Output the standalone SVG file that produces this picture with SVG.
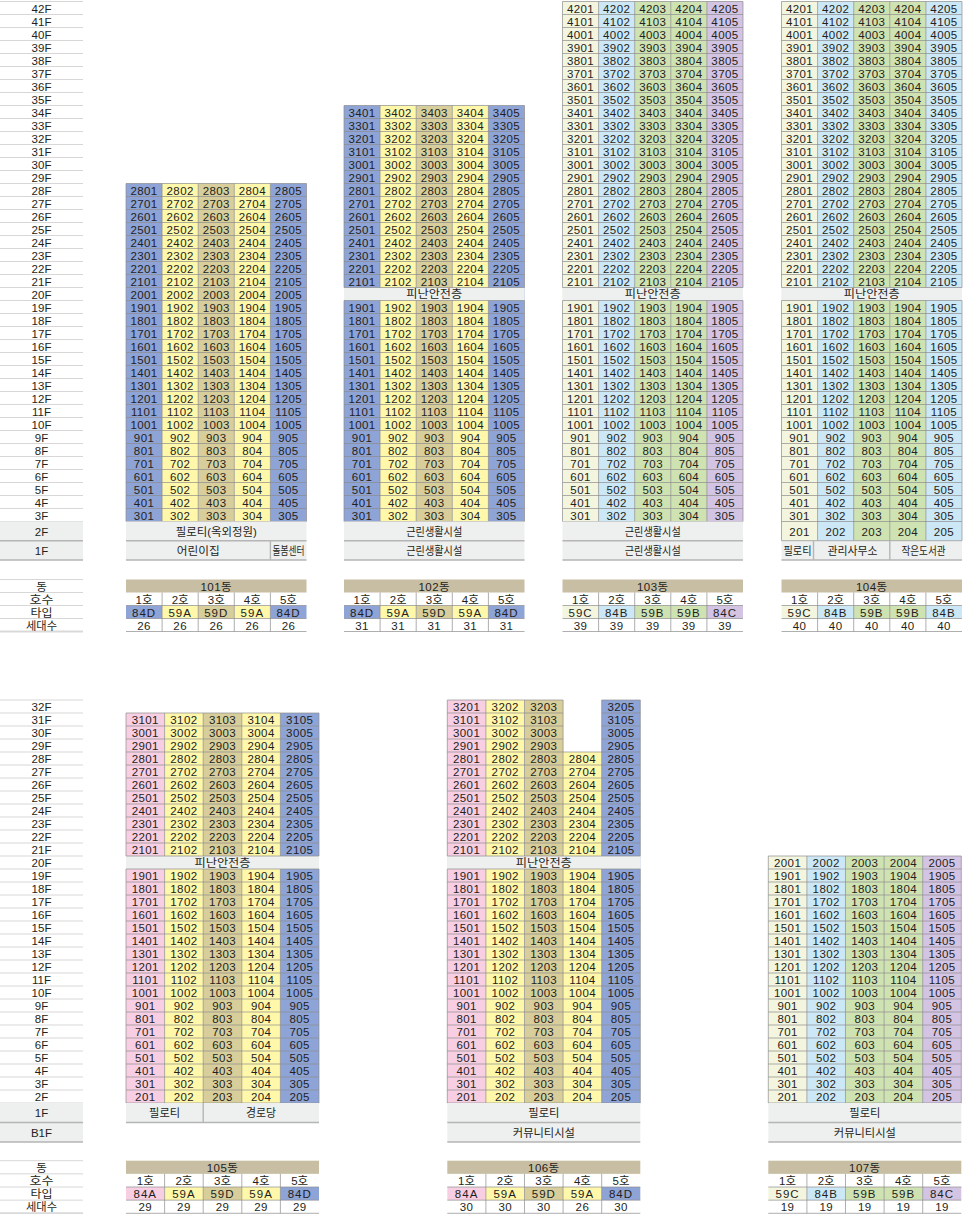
<svg xmlns="http://www.w3.org/2000/svg" width="963" height="1214" viewBox="0 0 963 1214">
<style>
text{font-family:"Liberation Sans","Noto Sans CJK KR",sans-serif;font-size:11.5px;letter-spacing:.4px;fill:#231f20;text-anchor:middle}
.f text,text.f{letter-spacing:0}
.k text,text.k{letter-spacing:0}
.t text{letter-spacing:1px}
.g{fill:none;stroke:#8c8c8c;stroke-width:.7}
.lg{fill:none;stroke:#cdcdcd;stroke-width:.8}
.ln{fill:none;stroke:#b5b5b5;stroke-width:1.4}
.bl{fill:#8ea3d6}.ye{fill:#fff7aa}.kh{fill:#d8ce9b}.cr{fill:#f3f5de}.lb{fill:#cce8f7}.gr{fill:#cfe2b2}.la{fill:#d4c4e4}.pk{fill:#f8cee2}.gy{fill:#eeefef}.tn{fill:#c8bea4}
</style>
<defs>
<path id="hT1" class="g" d="M0 1h180.5M0 14h180.5M0 27h180.5M0 40h180.5M0 53h180.5M0 66h180.5M0 79h180.5M0 92h180.5"/>
<path id="hT2" class="g" d="M0 105h180.5M0 118h180.5M0 131h180.5M0 144h180.5M0 157h180.5M0 170h180.5"/>
<path id="hT3" class="g" d="M0 183h180.5M0 196h180.5M0 209h180.5M0 222h180.5M0 235h180.5M0 248h180.5M0 261h180.5M0 274h180.5M0 287h180.5M0 300h180.5M0 313h180.5M0 326h180.5M0 339h180.5M0 352h180.5M0 365h180.5M0 378h180.5M0 391h180.5M0 404h180.5M0 417h180.5M0 430h180.5M0 443h180.5M0 456h180.5M0 469h180.5M0 482h180.5M0 495h180.5M0 508h180.5M0 521h180.5"/>
<path id="vTL" class="g" d="M0 300v221M36.1 300v221M72.2 300v221M108.3 300v221M144.4 300v221M180.5 300v221"/>
<path id="legT" class="g" d="M0 605h180.5M0 618h180.5M0 631h180.5M36.1 592v39M72.2 592v39M108.3 592v39M144.4 592v39"/>
<path id="hB2" class="g" d="M0 53h193M0 66h193M0 79h193M0 92h193M0 105h193M0 118h193M0 131h193M0 144h193"/>
<path id="hB3" class="g" d="M0 157h193M0 170h193M0 183h193M0 196h193M0 209h193M0 222h193M0 235h193M0 248h193M0 261h193M0 274h193M0 287h193M0 300h193M0 313h193M0 326h193M0 339h193M0 352h193M0 365h193M0 378h193M0 391h193M0 404h193"/>
<path id="vBL" class="g" d="M0 170v234M38.6 170v234M77.2 170v234M115.8 170v234M154.4 170v234M193 170v234"/>
<path id="legB" class="g" d="M0 488h193M0 501.15h193M0 514.3h193M38.6 474.85v39.45M77.2 474.85v39.45M115.8 474.85v39.45M154.4 474.85v39.45"/>
</defs>
<rect width="963" height="1214" fill="#fff"/>

<g id="upper" transform="translate(0,0.5)">
<g id="floor-axis-upper">
<path class="lg" d="M0 1h83M0 14h83M0 27h83M0 40h83M0 53h83M0 66h83M0 79h83M0 92h83M0 105h83M0 118h83M0 131h83M0 144h83M0 157h83M0 170h83M0 183h83M0 196h83M0 209h83M0 222h83M0 235h83M0 248h83M0 261h83M0 274h83M0 287h83M0 300h83M0 313h83M0 326h83M0 339h83M0 352h83M0 365h83M0 378h83M0 391h83M0 404h83M0 417h83M0 430h83M0 443h83M0 456h83M0 469h83M0 482h83M0 495h83M0 508h83M0 521h83"/>
<rect class="gy" y="521" width="83" height="38.5"/>
<path class="ln" d="M0 540.2h83M0 559.5h83"/>
<g class="f" transform="translate(41.5,0)">
<text y="12">42F</text><text y="25">41F</text><text y="38">40F</text><text y="51">39F</text><text y="64">38F</text><text y="77">37F</text><text y="90">36F</text><text y="103">35F</text><text y="116">34F</text><text y="129">33F</text><text y="142">32F</text><text y="155">31F</text><text y="168">30F</text><text y="181">29F</text><text y="194">28F</text><text y="207">27F</text><text y="220">26F</text><text y="233">25F</text><text y="246">24F</text><text y="259">23F</text><text y="272">22F</text><text y="285">21F</text><text y="298">20F</text><text y="311">19F</text><text y="324">18F</text><text y="337">17F</text><text y="350">16F</text><text y="363">15F</text><text y="376">14F</text><text y="389">13F</text><text y="402">12F</text><text y="415">11F</text><text y="428">10F</text><text y="441">9F</text><text y="454">8F</text><text y="467">7F</text><text y="480">6F</text><text y="493">5F</text><text y="506">4F</text><text y="519">3F</text><text y="535">2F</text><text y="554">1F</text>
</g>
<path class="lg" d="M0 579h83M0 592h83M0 605h83M0 618h83"/>
<path d="M0 631h83" fill="none" stroke="#d9d9d9" stroke-width="2"/>
<g class="k" transform="translate(41.5,0)"><text y="590">동</text><text y="603" textLength="24" lengthAdjust="spacingAndGlyphs">호수</text><text y="616" textLength="22" lengthAdjust="spacingAndGlyphs">타입</text><text y="629" textLength="31" lengthAdjust="spacingAndGlyphs">세대수</text></g>
</g>

<g id="b101" transform="translate(126,0)">
<rect class="bl" y="183" width="36.1" height="338"/>
<rect class="ye" x="36.1" y="183" width="36.1" height="338"/>
<rect class="kh" x="72.2" y="183" width="36.1" height="338"/>
<rect class="ye" x="108.3" y="183" width="36.1" height="338"/>
<rect class="bl" x="144.4" y="183" width="36.1" height="338"/>
<use href="#hT3"/>
<path class="g" d="M0 183v338M36.1 183v338M72.2 183v338M108.3 183v338M144.4 183v338M180.5 183v338"/>
<g transform="translate(18.05,0)"><text y="194">2801</text><text y="207">2701</text><text y="220">2601</text><text y="233">2501</text><text y="246">2401</text><text y="259">2301</text><text y="272">2201</text><text y="285">2101</text><text y="298">2001</text><text y="311">1901</text><text y="324">1801</text><text y="337">1701</text><text y="350">1601</text><text y="363">1501</text><text y="376">1401</text><text y="389">1301</text><text y="402">1201</text><text y="415">1101</text><text y="428">1001</text><text y="441">901</text><text y="454">801</text><text y="467">701</text><text y="480">601</text><text y="493">501</text><text y="506">401</text><text y="519">301</text></g>
<g transform="translate(54.15,0)"><text y="194">2802</text><text y="207">2702</text><text y="220">2602</text><text y="233">2502</text><text y="246">2402</text><text y="259">2302</text><text y="272">2202</text><text y="285">2102</text><text y="298">2002</text><text y="311">1902</text><text y="324">1802</text><text y="337">1702</text><text y="350">1602</text><text y="363">1502</text><text y="376">1402</text><text y="389">1302</text><text y="402">1202</text><text y="415">1102</text><text y="428">1002</text><text y="441">902</text><text y="454">802</text><text y="467">702</text><text y="480">602</text><text y="493">502</text><text y="506">402</text><text y="519">302</text></g>
<g transform="translate(90.25,0)"><text y="194">2803</text><text y="207">2703</text><text y="220">2603</text><text y="233">2503</text><text y="246">2403</text><text y="259">2303</text><text y="272">2203</text><text y="285">2103</text><text y="298">2003</text><text y="311">1903</text><text y="324">1803</text><text y="337">1703</text><text y="350">1603</text><text y="363">1503</text><text y="376">1403</text><text y="389">1303</text><text y="402">1203</text><text y="415">1103</text><text y="428">1003</text><text y="441">903</text><text y="454">803</text><text y="467">703</text><text y="480">603</text><text y="493">503</text><text y="506">403</text><text y="519">303</text></g>
<g transform="translate(126.35,0)"><text y="194">2804</text><text y="207">2704</text><text y="220">2604</text><text y="233">2504</text><text y="246">2404</text><text y="259">2304</text><text y="272">2204</text><text y="285">2104</text><text y="298">2004</text><text y="311">1904</text><text y="324">1804</text><text y="337">1704</text><text y="350">1604</text><text y="363">1504</text><text y="376">1404</text><text y="389">1304</text><text y="402">1204</text><text y="415">1104</text><text y="428">1004</text><text y="441">904</text><text y="454">804</text><text y="467">704</text><text y="480">604</text><text y="493">504</text><text y="506">404</text><text y="519">304</text></g>
<g transform="translate(162.45,0)"><text y="194">2805</text><text y="207">2705</text><text y="220">2605</text><text y="233">2505</text><text y="246">2405</text><text y="259">2305</text><text y="272">2205</text><text y="285">2105</text><text y="298">2005</text><text y="311">1905</text><text y="324">1805</text><text y="337">1705</text><text y="350">1605</text><text y="363">1505</text><text y="376">1405</text><text y="389">1305</text><text y="402">1205</text><text y="415">1105</text><text y="428">1005</text><text y="441">905</text><text y="454">805</text><text y="467">705</text><text y="480">605</text><text y="493">505</text><text y="506">405</text><text y="519">305</text></g>
<rect class="gy" y="521" width="180.5" height="38.5"/>
<path class="ln" d="M0 540.2h180.5M0 559.5h180.5M144.4 540.2v19.3"/>
<text class="k" x="90.25" y="535" textLength="81" lengthAdjust="spacingAndGlyphs">필로티(옥외정원)</text>
<text class="k" x="72.2" y="554" textLength="43" lengthAdjust="spacingAndGlyphs">어린이집</text>
<text class="k" x="162.45" y="554" textLength="32" lengthAdjust="spacingAndGlyphs">돌봄센터</text>
<rect class="tn" y="579" width="180.5" height="13"/>
<text x="90.25" y="590">101동</text>
<rect class="bl" y="605" width="36.1" height="13"/><rect class="ye" x="36.1" y="605" width="36.1" height="13"/><rect class="kh" x="72.2" y="605" width="36.1" height="13"/><rect class="ye" x="108.3" y="605" width="36.1" height="13"/><rect class="bl" x="144.4" y="605" width="36.1" height="13"/>
<use href="#legT"/>
<g class="f"><text x="18.05" y="603">1호</text><text x="54.15" y="603">2호</text><text x="90.25" y="603">3호</text><text x="126.35" y="603">4호</text><text x="162.45" y="603">5호</text></g>
<g class="t"><text x="18.05" y="616">84D</text><text x="54.15" y="616">59A</text><text x="90.25" y="616">59D</text><text x="126.35" y="616">59A</text><text x="162.45" y="616">84D</text></g>
<text x="18.05" y="629">26</text><text x="54.15" y="629">26</text><text x="90.25" y="629">26</text><text x="126.35" y="629">26</text><text x="162.45" y="629">26</text>
</g>

<g id="b102" transform="translate(344,0)">
<rect class="bl" y="105" width="36.1" height="416"/>
<rect class="ye" x="36.1" y="105" width="36.1" height="416"/>
<rect class="kh" x="72.2" y="105" width="36.1" height="416"/>
<rect class="ye" x="108.3" y="105" width="36.1" height="416"/>
<rect class="bl" x="144.4" y="105" width="36.1" height="416"/>
<rect class="gy" y="287" width="180.5" height="13"/>
<use href="#hT2"/><use href="#hT3"/>
<path class="g" d="M0 105v182M36.1 105v182M72.2 105v182M108.3 105v182M144.4 105v182M180.5 105v182"/>
<use href="#vTL"/>
<text class="k" x="90.25" y="297.5" textLength="56" lengthAdjust="spacingAndGlyphs">피난안전층</text>
<g transform="translate(18.05,0)"><text y="116">3401</text><text y="129">3301</text><text y="142">3201</text><text y="155">3101</text><text y="168">3001</text><text y="181">2901</text><text y="194">2801</text><text y="207">2701</text><text y="220">2601</text><text y="233">2501</text><text y="246">2401</text><text y="259">2301</text><text y="272">2201</text><text y="285">2101</text><text y="311">1901</text><text y="324">1801</text><text y="337">1701</text><text y="350">1601</text><text y="363">1501</text><text y="376">1401</text><text y="389">1301</text><text y="402">1201</text><text y="415">1101</text><text y="428">1001</text><text y="441">901</text><text y="454">801</text><text y="467">701</text><text y="480">601</text><text y="493">501</text><text y="506">401</text><text y="519">301</text></g>
<g transform="translate(54.15,0)"><text y="116">3402</text><text y="129">3302</text><text y="142">3202</text><text y="155">3102</text><text y="168">3002</text><text y="181">2902</text><text y="194">2802</text><text y="207">2702</text><text y="220">2602</text><text y="233">2502</text><text y="246">2402</text><text y="259">2302</text><text y="272">2202</text><text y="285">2102</text><text y="311">1902</text><text y="324">1802</text><text y="337">1702</text><text y="350">1602</text><text y="363">1502</text><text y="376">1402</text><text y="389">1302</text><text y="402">1202</text><text y="415">1102</text><text y="428">1002</text><text y="441">902</text><text y="454">802</text><text y="467">702</text><text y="480">602</text><text y="493">502</text><text y="506">402</text><text y="519">302</text></g>
<g transform="translate(90.25,0)"><text y="116">3403</text><text y="129">3303</text><text y="142">3203</text><text y="155">3103</text><text y="168">3003</text><text y="181">2903</text><text y="194">2803</text><text y="207">2703</text><text y="220">2603</text><text y="233">2503</text><text y="246">2403</text><text y="259">2303</text><text y="272">2203</text><text y="285">2103</text><text y="311">1903</text><text y="324">1803</text><text y="337">1703</text><text y="350">1603</text><text y="363">1503</text><text y="376">1403</text><text y="389">1303</text><text y="402">1203</text><text y="415">1103</text><text y="428">1003</text><text y="441">903</text><text y="454">803</text><text y="467">703</text><text y="480">603</text><text y="493">503</text><text y="506">403</text><text y="519">303</text></g>
<g transform="translate(126.35,0)"><text y="116">3404</text><text y="129">3304</text><text y="142">3204</text><text y="155">3104</text><text y="168">3004</text><text y="181">2904</text><text y="194">2804</text><text y="207">2704</text><text y="220">2604</text><text y="233">2504</text><text y="246">2404</text><text y="259">2304</text><text y="272">2204</text><text y="285">2104</text><text y="311">1904</text><text y="324">1804</text><text y="337">1704</text><text y="350">1604</text><text y="363">1504</text><text y="376">1404</text><text y="389">1304</text><text y="402">1204</text><text y="415">1104</text><text y="428">1004</text><text y="441">904</text><text y="454">804</text><text y="467">704</text><text y="480">604</text><text y="493">504</text><text y="506">404</text><text y="519">304</text></g>
<g transform="translate(162.45,0)"><text y="116">3405</text><text y="129">3305</text><text y="142">3205</text><text y="155">3105</text><text y="168">3005</text><text y="181">2905</text><text y="194">2805</text><text y="207">2705</text><text y="220">2605</text><text y="233">2505</text><text y="246">2405</text><text y="259">2305</text><text y="272">2205</text><text y="285">2105</text><text y="311">1905</text><text y="324">1805</text><text y="337">1705</text><text y="350">1605</text><text y="363">1505</text><text y="376">1405</text><text y="389">1305</text><text y="402">1205</text><text y="415">1105</text><text y="428">1005</text><text y="441">905</text><text y="454">805</text><text y="467">705</text><text y="480">605</text><text y="493">505</text><text y="506">405</text><text y="519">305</text></g>
<rect class="gy" y="521" width="180.5" height="38.5"/>
<path class="ln" d="M0 540.2h180.5M0 559.5h180.5"/>
<text class="k" x="90.25" y="535" textLength="56" lengthAdjust="spacingAndGlyphs">근린생활시설</text>
<text class="k" x="90.25" y="554" textLength="56" lengthAdjust="spacingAndGlyphs">근린생활시설</text>
<rect class="tn" y="579" width="180.5" height="13"/>
<text x="90.25" y="590">102동</text>
<rect class="bl" y="605" width="36.1" height="13"/><rect class="ye" x="36.1" y="605" width="36.1" height="13"/><rect class="kh" x="72.2" y="605" width="36.1" height="13"/><rect class="ye" x="108.3" y="605" width="36.1" height="13"/><rect class="bl" x="144.4" y="605" width="36.1" height="13"/>
<use href="#legT"/>
<g class="f"><text x="18.05" y="603">1호</text><text x="54.15" y="603">2호</text><text x="90.25" y="603">3호</text><text x="126.35" y="603">4호</text><text x="162.45" y="603">5호</text></g>
<g class="t"><text x="18.05" y="616">84D</text><text x="54.15" y="616">59A</text><text x="90.25" y="616">59D</text><text x="126.35" y="616">59A</text><text x="162.45" y="616">84D</text></g>
<text x="18.05" y="629">31</text><text x="54.15" y="629">31</text><text x="90.25" y="629">31</text><text x="126.35" y="629">31</text><text x="162.45" y="629">31</text>
</g>

<g id="b103" transform="translate(562.5,0)">
<rect class="cr" y="1" width="36.1" height="520"/>
<rect class="lb" x="36.1" y="1" width="36.1" height="520"/>
<rect class="gr" x="72.2" y="1" width="36.1" height="520"/>
<rect class="gr" x="108.3" y="1" width="36.1" height="520"/>
<rect class="la" x="144.4" y="1" width="36.1" height="520"/>
<rect class="gy" y="287" width="180.5" height="13"/>
<use href="#hT1"/><use href="#hT2"/><use href="#hT3"/>
<path class="g" d="M0 1v286M36.1 1v286M72.2 1v286M108.3 1v286M144.4 1v286M180.5 1v286"/>
<use href="#vTL"/>
<text class="k" x="90.25" y="297.5" textLength="56" lengthAdjust="spacingAndGlyphs">피난안전층</text>
<g transform="translate(18.05,0)"><text y="12">4201</text><text y="25">4101</text><text y="38">4001</text><text y="51">3901</text><text y="64">3801</text><text y="77">3701</text><text y="90">3601</text><text y="103">3501</text><text y="116">3401</text><text y="129">3301</text><text y="142">3201</text><text y="155">3101</text><text y="168">3001</text><text y="181">2901</text><text y="194">2801</text><text y="207">2701</text><text y="220">2601</text><text y="233">2501</text><text y="246">2401</text><text y="259">2301</text><text y="272">2201</text><text y="285">2101</text><text y="311">1901</text><text y="324">1801</text><text y="337">1701</text><text y="350">1601</text><text y="363">1501</text><text y="376">1401</text><text y="389">1301</text><text y="402">1201</text><text y="415">1101</text><text y="428">1001</text><text y="441">901</text><text y="454">801</text><text y="467">701</text><text y="480">601</text><text y="493">501</text><text y="506">401</text><text y="519">301</text></g>
<g transform="translate(54.15,0)"><text y="12">4202</text><text y="25">4102</text><text y="38">4002</text><text y="51">3902</text><text y="64">3802</text><text y="77">3702</text><text y="90">3602</text><text y="103">3502</text><text y="116">3402</text><text y="129">3302</text><text y="142">3202</text><text y="155">3102</text><text y="168">3002</text><text y="181">2902</text><text y="194">2802</text><text y="207">2702</text><text y="220">2602</text><text y="233">2502</text><text y="246">2402</text><text y="259">2302</text><text y="272">2202</text><text y="285">2102</text><text y="311">1902</text><text y="324">1802</text><text y="337">1702</text><text y="350">1602</text><text y="363">1502</text><text y="376">1402</text><text y="389">1302</text><text y="402">1202</text><text y="415">1102</text><text y="428">1002</text><text y="441">902</text><text y="454">802</text><text y="467">702</text><text y="480">602</text><text y="493">502</text><text y="506">402</text><text y="519">302</text></g>
<g transform="translate(90.25,0)"><text y="12">4203</text><text y="25">4103</text><text y="38">4003</text><text y="51">3903</text><text y="64">3803</text><text y="77">3703</text><text y="90">3603</text><text y="103">3503</text><text y="116">3403</text><text y="129">3303</text><text y="142">3203</text><text y="155">3103</text><text y="168">3003</text><text y="181">2903</text><text y="194">2803</text><text y="207">2703</text><text y="220">2603</text><text y="233">2503</text><text y="246">2403</text><text y="259">2303</text><text y="272">2203</text><text y="285">2103</text><text y="311">1903</text><text y="324">1803</text><text y="337">1703</text><text y="350">1603</text><text y="363">1503</text><text y="376">1403</text><text y="389">1303</text><text y="402">1203</text><text y="415">1103</text><text y="428">1003</text><text y="441">903</text><text y="454">803</text><text y="467">703</text><text y="480">603</text><text y="493">503</text><text y="506">403</text><text y="519">303</text></g>
<g transform="translate(126.35,0)"><text y="12">4204</text><text y="25">4104</text><text y="38">4004</text><text y="51">3904</text><text y="64">3804</text><text y="77">3704</text><text y="90">3604</text><text y="103">3504</text><text y="116">3404</text><text y="129">3304</text><text y="142">3204</text><text y="155">3104</text><text y="168">3004</text><text y="181">2904</text><text y="194">2804</text><text y="207">2704</text><text y="220">2604</text><text y="233">2504</text><text y="246">2404</text><text y="259">2304</text><text y="272">2204</text><text y="285">2104</text><text y="311">1904</text><text y="324">1804</text><text y="337">1704</text><text y="350">1604</text><text y="363">1504</text><text y="376">1404</text><text y="389">1304</text><text y="402">1204</text><text y="415">1104</text><text y="428">1004</text><text y="441">904</text><text y="454">804</text><text y="467">704</text><text y="480">604</text><text y="493">504</text><text y="506">404</text><text y="519">304</text></g>
<g transform="translate(162.45,0)"><text y="12">4205</text><text y="25">4105</text><text y="38">4005</text><text y="51">3905</text><text y="64">3805</text><text y="77">3705</text><text y="90">3605</text><text y="103">3505</text><text y="116">3405</text><text y="129">3305</text><text y="142">3205</text><text y="155">3105</text><text y="168">3005</text><text y="181">2905</text><text y="194">2805</text><text y="207">2705</text><text y="220">2605</text><text y="233">2505</text><text y="246">2405</text><text y="259">2305</text><text y="272">2205</text><text y="285">2105</text><text y="311">1905</text><text y="324">1805</text><text y="337">1705</text><text y="350">1605</text><text y="363">1505</text><text y="376">1405</text><text y="389">1305</text><text y="402">1205</text><text y="415">1105</text><text y="428">1005</text><text y="441">905</text><text y="454">805</text><text y="467">705</text><text y="480">605</text><text y="493">505</text><text y="506">405</text><text y="519">305</text></g>
<rect class="gy" y="521" width="180.5" height="38.5"/>
<path class="ln" d="M0 540.2h180.5M0 559.5h180.5"/>
<text class="k" x="90.25" y="535" textLength="56" lengthAdjust="spacingAndGlyphs">근린생활시설</text>
<text class="k" x="90.25" y="554" textLength="56" lengthAdjust="spacingAndGlyphs">근린생활시설</text>
<rect class="tn" y="579" width="180.5" height="13"/>
<text x="90.25" y="590">103동</text>
<rect class="cr" y="605" width="36.1" height="13"/><rect class="lb" x="36.1" y="605" width="36.1" height="13"/><rect class="gr" x="72.2" y="605" width="36.1" height="13"/><rect class="gr" x="108.3" y="605" width="36.1" height="13"/><rect class="la" x="144.4" y="605" width="36.1" height="13"/>
<use href="#legT"/>
<g class="f"><text x="18.05" y="603">1호</text><text x="54.15" y="603">2호</text><text x="90.25" y="603">3호</text><text x="126.35" y="603">4호</text><text x="162.45" y="603">5호</text></g>
<g class="t"><text x="18.05" y="616">59C</text><text x="54.15" y="616">84B</text><text x="90.25" y="616">59B</text><text x="126.35" y="616">59B</text><text x="162.45" y="616">84C</text></g>
<text x="18.05" y="629">39</text><text x="54.15" y="629">39</text><text x="90.25" y="629">39</text><text x="126.35" y="629">39</text><text x="162.45" y="629">39</text>
</g>

<g id="b104" transform="translate(781.5,0)">
<rect class="cr" y="1" width="36.1" height="539.2"/>
<rect class="lb" x="36.1" y="1" width="36.1" height="539.2"/>
<rect class="gr" x="72.2" y="1" width="36.1" height="539.2"/>
<rect class="gr" x="108.3" y="1" width="36.1" height="539.2"/>
<rect class="lb" x="144.4" y="1" width="36.1" height="539.2"/>
<rect class="gy" y="287" width="180.5" height="13"/>
<use href="#hT1"/><use href="#hT2"/><use href="#hT3"/>
<path class="g" d="M0 1v286M36.1 1v286M72.2 1v286M108.3 1v286M144.4 1v286M180.5 1v286M0 300v240.2M36.1 300v240.2M72.2 300v240.2M108.3 300v240.2M144.4 300v240.2M180.5 300v240.2"/>
<text class="k" x="90.25" y="297.5" textLength="56" lengthAdjust="spacingAndGlyphs">피난안전층</text>
<g transform="translate(18.05,0)"><text y="12">4201</text><text y="25">4101</text><text y="38">4001</text><text y="51">3901</text><text y="64">3801</text><text y="77">3701</text><text y="90">3601</text><text y="103">3501</text><text y="116">3401</text><text y="129">3301</text><text y="142">3201</text><text y="155">3101</text><text y="168">3001</text><text y="181">2901</text><text y="194">2801</text><text y="207">2701</text><text y="220">2601</text><text y="233">2501</text><text y="246">2401</text><text y="259">2301</text><text y="272">2201</text><text y="285">2101</text><text y="311">1901</text><text y="324">1801</text><text y="337">1701</text><text y="350">1601</text><text y="363">1501</text><text y="376">1401</text><text y="389">1301</text><text y="402">1201</text><text y="415">1101</text><text y="428">1001</text><text y="441">901</text><text y="454">801</text><text y="467">701</text><text y="480">601</text><text y="493">501</text><text y="506">401</text><text y="519">301</text><text y="535">201</text></g>
<g transform="translate(54.15,0)"><text y="12">4202</text><text y="25">4102</text><text y="38">4002</text><text y="51">3902</text><text y="64">3802</text><text y="77">3702</text><text y="90">3602</text><text y="103">3502</text><text y="116">3402</text><text y="129">3302</text><text y="142">3202</text><text y="155">3102</text><text y="168">3002</text><text y="181">2902</text><text y="194">2802</text><text y="207">2702</text><text y="220">2602</text><text y="233">2502</text><text y="246">2402</text><text y="259">2302</text><text y="272">2202</text><text y="285">2102</text><text y="311">1902</text><text y="324">1802</text><text y="337">1702</text><text y="350">1602</text><text y="363">1502</text><text y="376">1402</text><text y="389">1302</text><text y="402">1202</text><text y="415">1102</text><text y="428">1002</text><text y="441">902</text><text y="454">802</text><text y="467">702</text><text y="480">602</text><text y="493">502</text><text y="506">402</text><text y="519">302</text><text y="535">202</text></g>
<g transform="translate(90.25,0)"><text y="12">4203</text><text y="25">4103</text><text y="38">4003</text><text y="51">3903</text><text y="64">3803</text><text y="77">3703</text><text y="90">3603</text><text y="103">3503</text><text y="116">3403</text><text y="129">3303</text><text y="142">3203</text><text y="155">3103</text><text y="168">3003</text><text y="181">2903</text><text y="194">2803</text><text y="207">2703</text><text y="220">2603</text><text y="233">2503</text><text y="246">2403</text><text y="259">2303</text><text y="272">2203</text><text y="285">2103</text><text y="311">1903</text><text y="324">1803</text><text y="337">1703</text><text y="350">1603</text><text y="363">1503</text><text y="376">1403</text><text y="389">1303</text><text y="402">1203</text><text y="415">1103</text><text y="428">1003</text><text y="441">903</text><text y="454">803</text><text y="467">703</text><text y="480">603</text><text y="493">503</text><text y="506">403</text><text y="519">303</text><text y="535">203</text></g>
<g transform="translate(126.35,0)"><text y="12">4204</text><text y="25">4104</text><text y="38">4004</text><text y="51">3904</text><text y="64">3804</text><text y="77">3704</text><text y="90">3604</text><text y="103">3504</text><text y="116">3404</text><text y="129">3304</text><text y="142">3204</text><text y="155">3104</text><text y="168">3004</text><text y="181">2904</text><text y="194">2804</text><text y="207">2704</text><text y="220">2604</text><text y="233">2504</text><text y="246">2404</text><text y="259">2304</text><text y="272">2204</text><text y="285">2104</text><text y="311">1904</text><text y="324">1804</text><text y="337">1704</text><text y="350">1604</text><text y="363">1504</text><text y="376">1404</text><text y="389">1304</text><text y="402">1204</text><text y="415">1104</text><text y="428">1004</text><text y="441">904</text><text y="454">804</text><text y="467">704</text><text y="480">604</text><text y="493">504</text><text y="506">404</text><text y="519">304</text><text y="535">204</text></g>
<g transform="translate(162.45,0)"><text y="12">4205</text><text y="25">4105</text><text y="38">4005</text><text y="51">3905</text><text y="64">3805</text><text y="77">3705</text><text y="90">3605</text><text y="103">3505</text><text y="116">3405</text><text y="129">3305</text><text y="142">3205</text><text y="155">3105</text><text y="168">3005</text><text y="181">2905</text><text y="194">2805</text><text y="207">2705</text><text y="220">2605</text><text y="233">2505</text><text y="246">2405</text><text y="259">2305</text><text y="272">2205</text><text y="285">2105</text><text y="311">1905</text><text y="324">1805</text><text y="337">1705</text><text y="350">1605</text><text y="363">1505</text><text y="376">1405</text><text y="389">1305</text><text y="402">1205</text><text y="415">1105</text><text y="428">1005</text><text y="441">905</text><text y="454">805</text><text y="467">705</text><text y="480">605</text><text y="493">505</text><text y="506">405</text><text y="519">305</text><text y="535">205</text></g>
<rect class="gy" y="540.2" width="180.5" height="19.3"/>
<path class="g" d="M0 540.2h180.5"/>
<path class="ln" d="M0 559.5h180.5M32 540.2v19.3M108.3 540.2v19.3"/>
<text class="k" x="16" y="554" textLength="28" lengthAdjust="spacingAndGlyphs">필로티</text>
<text class="k" x="71" y="554" textLength="50" lengthAdjust="spacingAndGlyphs">관리사무소</text>
<text class="k" x="142" y="554" textLength="44" lengthAdjust="spacingAndGlyphs">작은도서관</text>
<rect class="tn" y="579" width="180.5" height="13"/>
<text x="90.25" y="590">104동</text>
<rect class="cr" y="605" width="36.1" height="13"/><rect class="lb" x="36.1" y="605" width="36.1" height="13"/><rect class="gr" x="72.2" y="605" width="36.1" height="13"/><rect class="gr" x="108.3" y="605" width="36.1" height="13"/><rect class="lb" x="144.4" y="605" width="36.1" height="13"/>
<use href="#legT"/>
<g class="f"><text x="18.05" y="603">1호</text><text x="54.15" y="603">2호</text><text x="90.25" y="603">3호</text><text x="126.35" y="603">4호</text><text x="162.45" y="603">5호</text></g>
<g class="t"><text x="18.05" y="616">59C</text><text x="54.15" y="616">84B</text><text x="90.25" y="616">59B</text><text x="126.35" y="616">59B</text><text x="162.45" y="616">84B</text></g>
<text x="18.05" y="629">40</text><text x="54.15" y="629">40</text><text x="90.25" y="629">40</text><text x="126.35" y="629">40</text><text x="162.45" y="629">40</text>
</g>
</g>

<g id="lower" transform="translate(0,699)">
<g id="floor-axis-lower">
<path class="lg" d="M0 1h83M0 14h83M0 27h83M0 40h83M0 53h83M0 66h83M0 79h83M0 92h83M0 105h83M0 118h83M0 131h83M0 144h83M0 157h83M0 170h83M0 183h83M0 196h83M0 209h83M0 222h83M0 235h83M0 248h83M0 261h83M0 274h83M0 287h83M0 300h83M0 313h83M0 326h83M0 339h83M0 352h83M0 365h83M0 378h83M0 391h83M0 404h83"/>
<rect class="gy" y="404" width="83" height="39"/>
<path class="ln" d="M0 423.5h83M0 443h83"/>
<g class="f" transform="translate(41.5,0)">
<text y="12">32F</text><text y="25">31F</text><text y="38">30F</text><text y="51">29F</text><text y="64">28F</text><text y="77">27F</text><text y="90">26F</text><text y="103">25F</text><text y="116">24F</text><text y="129">23F</text><text y="142">22F</text><text y="155">21F</text><text y="168">20F</text><text y="181">19F</text><text y="194">18F</text><text y="207">17F</text><text y="220">16F</text><text y="233">15F</text><text y="246">14F</text><text y="259">13F</text><text y="272">12F</text><text y="285">11F</text><text y="298">10F</text><text y="311">9F</text><text y="324">8F</text><text y="337">7F</text><text y="350">6F</text><text y="363">5F</text><text y="376">4F</text><text y="389">3F</text><text y="402">2F</text><text y="418">1F</text><text y="437.5">B1F</text>
</g>
<path class="lg" d="M0 461.7h83M0 474.85h83M0 488h83M0 501.15h83"/>
<path d="M0 514.3h83" fill="none" stroke="#d9d9d9" stroke-width="2"/>
<g class="k" transform="translate(41.5,0)"><text y="472.5">동</text><text y="485.6" textLength="24" lengthAdjust="spacingAndGlyphs">호수</text><text y="498.8" textLength="22" lengthAdjust="spacingAndGlyphs">타입</text><text y="512" textLength="31" lengthAdjust="spacingAndGlyphs">세대수</text></g>
</g>

<g id="b105" transform="translate(126,0)">
<rect class="pk" y="14" width="38.6" height="390"/>
<rect class="ye" x="38.6" y="14" width="38.6" height="390"/>
<rect class="kh" x="77.2" y="14" width="38.6" height="390"/>
<rect class="ye" x="115.8" y="14" width="38.6" height="390"/>
<rect class="bl" x="154.4" y="14" width="38.6" height="390"/>
<rect class="gy" y="157" width="193" height="13"/>
<path class="g" d="M0 14h193M0 27h193M0 40h193M0 14v143M38.6 14v143M77.2 14v143M115.8 14v143M154.4 14v143M193 14v143"/>
<use href="#hB2"/><use href="#hB3"/><use href="#vBL"/>
<text class="k" x="96.5" y="167.5" textLength="56" lengthAdjust="spacingAndGlyphs">피난안전층</text>
<g transform="translate(19.3,0)"><text y="25">3101</text><text y="38">3001</text><text y="51">2901</text><text y="64">2801</text><text y="77">2701</text><text y="90">2601</text><text y="103">2501</text><text y="116">2401</text><text y="129">2301</text><text y="142">2201</text><text y="155">2101</text><text y="181">1901</text><text y="194">1801</text><text y="207">1701</text><text y="220">1601</text><text y="233">1501</text><text y="246">1401</text><text y="259">1301</text><text y="272">1201</text><text y="285">1101</text><text y="298">1001</text><text y="311">901</text><text y="324">801</text><text y="337">701</text><text y="350">601</text><text y="363">501</text><text y="376">401</text><text y="389">301</text><text y="402">201</text></g>
<g transform="translate(57.9,0)"><text y="25">3102</text><text y="38">3002</text><text y="51">2902</text><text y="64">2802</text><text y="77">2702</text><text y="90">2602</text><text y="103">2502</text><text y="116">2402</text><text y="129">2302</text><text y="142">2202</text><text y="155">2102</text><text y="181">1902</text><text y="194">1802</text><text y="207">1702</text><text y="220">1602</text><text y="233">1502</text><text y="246">1402</text><text y="259">1302</text><text y="272">1202</text><text y="285">1102</text><text y="298">1002</text><text y="311">902</text><text y="324">802</text><text y="337">702</text><text y="350">602</text><text y="363">502</text><text y="376">402</text><text y="389">302</text><text y="402">202</text></g>
<g transform="translate(96.5,0)"><text y="25">3103</text><text y="38">3003</text><text y="51">2903</text><text y="64">2803</text><text y="77">2703</text><text y="90">2603</text><text y="103">2503</text><text y="116">2403</text><text y="129">2303</text><text y="142">2203</text><text y="155">2103</text><text y="181">1903</text><text y="194">1803</text><text y="207">1703</text><text y="220">1603</text><text y="233">1503</text><text y="246">1403</text><text y="259">1303</text><text y="272">1203</text><text y="285">1103</text><text y="298">1003</text><text y="311">903</text><text y="324">803</text><text y="337">703</text><text y="350">603</text><text y="363">503</text><text y="376">403</text><text y="389">303</text><text y="402">203</text></g>
<g transform="translate(135.1,0)"><text y="25">3104</text><text y="38">3004</text><text y="51">2904</text><text y="64">2804</text><text y="77">2704</text><text y="90">2604</text><text y="103">2504</text><text y="116">2404</text><text y="129">2304</text><text y="142">2204</text><text y="155">2104</text><text y="181">1904</text><text y="194">1804</text><text y="207">1704</text><text y="220">1604</text><text y="233">1504</text><text y="246">1404</text><text y="259">1304</text><text y="272">1204</text><text y="285">1104</text><text y="298">1004</text><text y="311">904</text><text y="324">804</text><text y="337">704</text><text y="350">604</text><text y="363">504</text><text y="376">404</text><text y="389">304</text><text y="402">204</text></g>
<g transform="translate(173.7,0)"><text y="25">3105</text><text y="38">3005</text><text y="51">2905</text><text y="64">2805</text><text y="77">2705</text><text y="90">2605</text><text y="103">2505</text><text y="116">2405</text><text y="129">2305</text><text y="142">2205</text><text y="155">2105</text><text y="181">1905</text><text y="194">1805</text><text y="207">1705</text><text y="220">1605</text><text y="233">1505</text><text y="246">1405</text><text y="259">1305</text><text y="272">1205</text><text y="285">1105</text><text y="298">1005</text><text y="311">905</text><text y="324">805</text><text y="337">705</text><text y="350">605</text><text y="363">505</text><text y="376">405</text><text y="389">305</text><text y="402">205</text></g>
<rect class="gy" y="404" width="193" height="19.5"/>
<path class="ln" d="M0 423.5h193M77.2 404v19.5"/>
<text class="k" x="38.6" y="418" textLength="31" lengthAdjust="spacingAndGlyphs">필로티</text>
<text class="k" x="135.1" y="418" textLength="30" lengthAdjust="spacingAndGlyphs">경로당</text>
<rect class="tn" y="461.7" width="193" height="13.15"/>
<text x="96.5" y="472.5">105동</text>
<rect class="pk" y="488" width="38.6" height="13.15"/><rect class="ye" x="38.6" y="488" width="38.6" height="13.15"/><rect class="kh" x="77.2" y="488" width="38.6" height="13.15"/><rect class="ye" x="115.8" y="488" width="38.6" height="13.15"/><rect class="bl" x="154.4" y="488" width="38.6" height="13.15"/>
<use href="#legB"/>
<g class="f"><text x="19.3" y="485.6">1호</text><text x="57.9" y="485.6">2호</text><text x="96.5" y="485.6">3호</text><text x="135.1" y="485.6">4호</text><text x="173.7" y="485.6">5호</text></g>
<g class="t"><text x="19.3" y="498.8">84A</text><text x="57.9" y="498.8">59A</text><text x="96.5" y="498.8">59D</text><text x="135.1" y="498.8">59A</text><text x="173.7" y="498.8">84D</text></g>
<text x="19.3" y="512">29</text><text x="57.9" y="512">29</text><text x="96.5" y="512">29</text><text x="135.1" y="512">29</text><text x="173.7" y="512">29</text>
</g>

<g id="b106" transform="translate(447.3,0)">
<rect class="pk" y="1" width="38.6" height="403"/>
<rect class="ye" x="38.6" y="1" width="38.6" height="403"/>
<rect class="kh" x="77.2" y="1" width="38.6" height="403"/>
<rect class="ye" x="115.8" y="53" width="38.6" height="351"/>
<rect class="bl" x="154.4" y="1" width="38.6" height="403"/>
<rect class="gy" y="157" width="193" height="13"/>
<path class="g" d="M0 1h115.8M154.4 1h38.6M0 14h115.8M154.4 14h38.6M0 27h115.8M154.4 27h38.6M0 40h115.8M154.4 40h38.6M0 1v156M38.6 1v156M77.2 1v156M115.8 1v156M154.4 1v156M193 1v156"/>
<use href="#hB2"/><use href="#hB3"/><use href="#vBL"/>
<text class="k" x="96.5" y="167.5" textLength="56" lengthAdjust="spacingAndGlyphs">피난안전층</text>
<g transform="translate(19.3,0)"><text y="12">3201</text><text y="25">3101</text><text y="38">3001</text><text y="51">2901</text><text y="64">2801</text><text y="77">2701</text><text y="90">2601</text><text y="103">2501</text><text y="116">2401</text><text y="129">2301</text><text y="142">2201</text><text y="155">2101</text><text y="181">1901</text><text y="194">1801</text><text y="207">1701</text><text y="220">1601</text><text y="233">1501</text><text y="246">1401</text><text y="259">1301</text><text y="272">1201</text><text y="285">1101</text><text y="298">1001</text><text y="311">901</text><text y="324">801</text><text y="337">701</text><text y="350">601</text><text y="363">501</text><text y="376">401</text><text y="389">301</text><text y="402">201</text></g>
<g transform="translate(57.9,0)"><text y="12">3202</text><text y="25">3102</text><text y="38">3002</text><text y="51">2902</text><text y="64">2802</text><text y="77">2702</text><text y="90">2602</text><text y="103">2502</text><text y="116">2402</text><text y="129">2302</text><text y="142">2202</text><text y="155">2102</text><text y="181">1902</text><text y="194">1802</text><text y="207">1702</text><text y="220">1602</text><text y="233">1502</text><text y="246">1402</text><text y="259">1302</text><text y="272">1202</text><text y="285">1102</text><text y="298">1002</text><text y="311">902</text><text y="324">802</text><text y="337">702</text><text y="350">602</text><text y="363">502</text><text y="376">402</text><text y="389">302</text><text y="402">202</text></g>
<g transform="translate(96.5,0)"><text y="12">3203</text><text y="25">3103</text><text y="38">3003</text><text y="51">2903</text><text y="64">2803</text><text y="77">2703</text><text y="90">2603</text><text y="103">2503</text><text y="116">2403</text><text y="129">2303</text><text y="142">2203</text><text y="155">2103</text><text y="181">1903</text><text y="194">1803</text><text y="207">1703</text><text y="220">1603</text><text y="233">1503</text><text y="246">1403</text><text y="259">1303</text><text y="272">1203</text><text y="285">1103</text><text y="298">1003</text><text y="311">903</text><text y="324">803</text><text y="337">703</text><text y="350">603</text><text y="363">503</text><text y="376">403</text><text y="389">303</text><text y="402">203</text></g>
<g transform="translate(135.1,0)"><text y="64">2804</text><text y="77">2704</text><text y="90">2604</text><text y="103">2504</text><text y="116">2404</text><text y="129">2304</text><text y="142">2204</text><text y="155">2104</text><text y="181">1904</text><text y="194">1804</text><text y="207">1704</text><text y="220">1604</text><text y="233">1504</text><text y="246">1404</text><text y="259">1304</text><text y="272">1204</text><text y="285">1104</text><text y="298">1004</text><text y="311">904</text><text y="324">804</text><text y="337">704</text><text y="350">604</text><text y="363">504</text><text y="376">404</text><text y="389">304</text><text y="402">204</text></g>
<g transform="translate(173.7,0)"><text y="12">3205</text><text y="25">3105</text><text y="38">3005</text><text y="51">2905</text><text y="64">2805</text><text y="77">2705</text><text y="90">2605</text><text y="103">2505</text><text y="116">2405</text><text y="129">2305</text><text y="142">2205</text><text y="155">2105</text><text y="181">1905</text><text y="194">1805</text><text y="207">1705</text><text y="220">1605</text><text y="233">1505</text><text y="246">1405</text><text y="259">1305</text><text y="272">1205</text><text y="285">1105</text><text y="298">1005</text><text y="311">905</text><text y="324">805</text><text y="337">705</text><text y="350">605</text><text y="363">505</text><text y="376">405</text><text y="389">305</text><text y="402">205</text></g>
<rect class="gy" y="404" width="193" height="39"/>
<path class="ln" d="M0 423.5h193M0 443h193"/>
<text class="k" x="96.5" y="418" textLength="31" lengthAdjust="spacingAndGlyphs">필로티</text>
<text class="k" x="96.5" y="437.5" textLength="62" lengthAdjust="spacingAndGlyphs">커뮤니티시설</text>
<rect class="tn" y="461.7" width="193" height="13.15"/>
<text x="96.5" y="472.5">106동</text>
<rect class="pk" y="488" width="38.6" height="13.15"/><rect class="ye" x="38.6" y="488" width="38.6" height="13.15"/><rect class="kh" x="77.2" y="488" width="38.6" height="13.15"/><rect class="ye" x="115.8" y="488" width="38.6" height="13.15"/><rect class="bl" x="154.4" y="488" width="38.6" height="13.15"/>
<use href="#legB"/>
<g class="f"><text x="19.3" y="485.6">1호</text><text x="57.9" y="485.6">2호</text><text x="96.5" y="485.6">3호</text><text x="135.1" y="485.6">4호</text><text x="173.7" y="485.6">5호</text></g>
<g class="t"><text x="19.3" y="498.8">84A</text><text x="57.9" y="498.8">59A</text><text x="96.5" y="498.8">59D</text><text x="135.1" y="498.8">59A</text><text x="173.7" y="498.8">84D</text></g>
<text x="19.3" y="512">30</text><text x="57.9" y="512">30</text><text x="96.5" y="512">30</text><text x="135.1" y="512">26</text><text x="173.7" y="512">30</text>
</g>

<g id="b107" transform="translate(768.3,0)">
<rect class="cr" y="157" width="38.6" height="247"/>
<rect class="lb" x="38.6" y="157" width="38.6" height="247"/>
<rect class="gr" x="77.2" y="157" width="38.6" height="247"/>
<rect class="gr" x="115.8" y="157" width="38.6" height="247"/>
<rect class="la" x="154.4" y="157" width="38.6" height="247"/>
<use href="#hB3"/>
<path class="g" d="M0 157v247M38.6 157v247M77.2 157v247M115.8 157v247M154.4 157v247M193 157v247"/>
<g transform="translate(19.3,0)"><text y="168">2001</text><text y="181">1901</text><text y="194">1801</text><text y="207">1701</text><text y="220">1601</text><text y="233">1501</text><text y="246">1401</text><text y="259">1301</text><text y="272">1201</text><text y="285">1101</text><text y="298">1001</text><text y="311">901</text><text y="324">801</text><text y="337">701</text><text y="350">601</text><text y="363">501</text><text y="376">401</text><text y="389">301</text><text y="402">201</text></g>
<g transform="translate(57.9,0)"><text y="168">2002</text><text y="181">1902</text><text y="194">1802</text><text y="207">1702</text><text y="220">1602</text><text y="233">1502</text><text y="246">1402</text><text y="259">1302</text><text y="272">1202</text><text y="285">1102</text><text y="298">1002</text><text y="311">902</text><text y="324">802</text><text y="337">702</text><text y="350">602</text><text y="363">502</text><text y="376">402</text><text y="389">302</text><text y="402">202</text></g>
<g transform="translate(96.5,0)"><text y="168">2003</text><text y="181">1903</text><text y="194">1803</text><text y="207">1703</text><text y="220">1603</text><text y="233">1503</text><text y="246">1403</text><text y="259">1303</text><text y="272">1203</text><text y="285">1103</text><text y="298">1003</text><text y="311">903</text><text y="324">803</text><text y="337">703</text><text y="350">603</text><text y="363">503</text><text y="376">403</text><text y="389">303</text><text y="402">203</text></g>
<g transform="translate(135.1,0)"><text y="168">2004</text><text y="181">1904</text><text y="194">1804</text><text y="207">1704</text><text y="220">1604</text><text y="233">1504</text><text y="246">1404</text><text y="259">1304</text><text y="272">1204</text><text y="285">1104</text><text y="298">1004</text><text y="311">904</text><text y="324">804</text><text y="337">704</text><text y="350">604</text><text y="363">504</text><text y="376">404</text><text y="389">304</text><text y="402">204</text></g>
<g transform="translate(173.7,0)"><text y="168">2005</text><text y="181">1905</text><text y="194">1805</text><text y="207">1705</text><text y="220">1605</text><text y="233">1505</text><text y="246">1405</text><text y="259">1305</text><text y="272">1205</text><text y="285">1105</text><text y="298">1005</text><text y="311">905</text><text y="324">805</text><text y="337">705</text><text y="350">605</text><text y="363">505</text><text y="376">405</text><text y="389">305</text><text y="402">205</text></g>
<rect class="gy" y="404" width="193" height="39"/>
<path class="ln" d="M0 423.5h193M0 443h193"/>
<text class="k" x="96.5" y="418" textLength="31" lengthAdjust="spacingAndGlyphs">필로티</text>
<text class="k" x="96.5" y="437.5" textLength="62" lengthAdjust="spacingAndGlyphs">커뮤니티시설</text>
<rect class="tn" y="461.7" width="193" height="13.15"/>
<text x="96.5" y="472.5">107동</text>
<rect class="cr" y="488" width="38.6" height="13.15"/><rect class="lb" x="38.6" y="488" width="38.6" height="13.15"/><rect class="gr" x="77.2" y="488" width="38.6" height="13.15"/><rect class="gr" x="115.8" y="488" width="38.6" height="13.15"/><rect class="la" x="154.4" y="488" width="38.6" height="13.15"/>
<use href="#legB"/>
<g class="f"><text x="19.3" y="485.6">1호</text><text x="57.9" y="485.6">2호</text><text x="96.5" y="485.6">3호</text><text x="135.1" y="485.6">4호</text><text x="173.7" y="485.6">5호</text></g>
<g class="t"><text x="19.3" y="498.8">59C</text><text x="57.9" y="498.8">84B</text><text x="96.5" y="498.8">59B</text><text x="135.1" y="498.8">59B</text><text x="173.7" y="498.8">84C</text></g>
<text x="19.3" y="512">19</text><text x="57.9" y="512">19</text><text x="96.5" y="512">19</text><text x="135.1" y="512">19</text><text x="173.7" y="512">19</text>
</g>
</g>
</svg>
